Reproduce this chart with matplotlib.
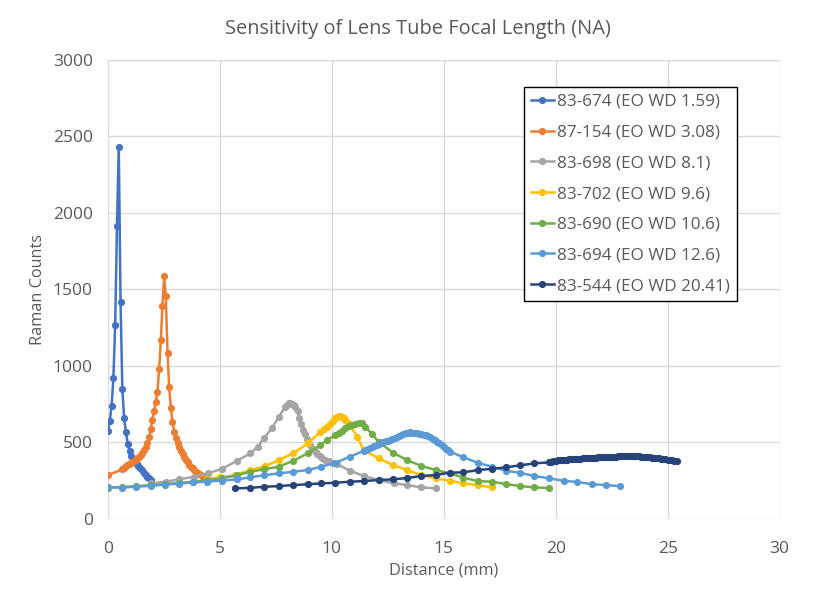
import matplotlib
matplotlib.use("Agg")
import matplotlib.pyplot as plt

plt.rcParams['font.family'] = ['Open Sans', 'DejaVu Sans']

title = "Sensitivity of Lens Tube Focal Length (NA)"
x_label = "Distance (mm)"
y_label = "Raman Counts"
labels = ["83-674 (EO WD 1.59)", "87-154 (EO WD 3.08)", "83-698 (EO WD 8.1)",
          "83-702 (EO WD 9.6)", "83-690 (EO WD 10.6)", "83-694 (EO WD 12.6)",
          "83-544 (EO WD 20.41)"]
colors = ["#4472C4", "#ED7D31", "#A5A5A5", "#FFC000", "#70AD47", "#5B9BD5", "#264478"]

x_674 = [0.00, 0.08, 0.16, 0.24, 0.32, 0.40, 0.48, 0.56, 0.64, 0.72, 0.80, 0.88, 0.96,
         1.04, 1.12, 1.20, 1.28, 1.36, 1.44, 1.52, 1.60, 1.68, 1.76, 1.84, 1.92]
y_674 = [570, 640, 735, 920, 1265, 1915, 2430, 1415, 845, 655, 565, 490, 440,
         412, 390, 372, 357, 343, 330, 316, 300, 285, 272, 262, 255]

x_154 = [0.00, 0.63, 0.71, 0.78, 0.86, 0.93, 1.01, 1.08, 1.16, 1.23, 1.31, 1.38, 1.46,
         1.53, 1.61, 1.68, 1.76, 1.83, 1.91, 1.98, 2.06, 2.13, 2.21, 2.28, 2.36, 2.43,
         2.51, 2.58, 2.66, 2.73, 2.81, 2.88, 2.96, 3.03, 3.11, 3.18, 3.26, 3.33, 3.41,
         3.48, 3.56, 3.63, 3.71, 3.78, 3.86, 3.93, 4.01, 4.08, 4.16, 4.23, 4.31, 4.38, 4.46]
y_154 = [284, 321, 330, 339, 348, 356, 363, 370, 377, 386, 395, 405, 416,
         430, 447, 467, 495, 530, 585, 645, 705, 760, 830, 975, 1165, 1390,
         1585, 1455, 1085, 860, 720, 630, 565, 525, 492, 466, 443, 422, 403,
         385, 368, 353, 340, 328, 317, 307, 298, 290, 282, 274, 267, 261, 256]

x_698 = [1.93, 2.57, 3.19, 3.83, 4.46, 5.10, 5.74, 6.36, 6.69, 6.96, 7.33, 7.63, 7.92,
         8.00, 8.07, 8.15, 8.22, 8.30, 8.37, 8.47, 8.55, 8.63, 8.71, 8.79, 8.87, 8.95,
         9.03, 9.11, 9.19, 9.27, 9.35, 9.45, 9.56, 9.70, 9.85, 10.00, 10.23, 10.80,
         11.42, 12.09, 12.76, 13.36, 13.98, 14.63]
y_698 = [230, 241, 256, 273, 295, 326, 376, 426, 469, 524, 593, 665, 731,
         745, 753, 757, 752, 742, 731, 700, 660, 615, 580, 550, 520, 496,
         478, 462, 448, 436, 425, 410, 395, 385, 375, 365, 355, 314,
         278, 252, 230, 219, 204, 197]

x_702 = [4.40, 5.02, 5.69, 6.36, 7.03, 7.63, 8.27, 8.92, 9.49, 9.65, 9.79, 9.93, 10.05,
         10.15, 10.23, 10.30, 10.38, 10.45, 10.52, 10.60, 10.70, 10.83, 11.13, 11.42,
         12.09, 12.73, 13.36, 13.98, 14.63, 15.27, 15.88, 16.51, 17.15]
y_702 = [258, 269, 284, 317, 343, 382, 426, 491, 567, 585, 600, 620, 640,
         655, 665, 670, 670, 667, 658, 644, 625, 605, 535, 448,
         393, 350, 317, 284, 263, 247, 230, 219, 204]

x_690 = [0.00, 0.63, 1.27, 1.90, 2.54, 3.17, 3.81, 4.44, 5.08, 5.77, 6.36, 6.96, 7.63,
         8.27, 8.92, 9.49, 9.80, 10.16, 10.30, 10.45, 10.60, 10.75, 10.90, 11.05, 11.20,
         11.35, 11.50, 11.80, 12.09, 12.73, 13.36, 13.98, 14.63, 15.29, 15.88, 16.51,
         17.15, 17.79, 18.42, 19.05, 19.70]
y_690 = [200, 207, 212, 218, 225, 232, 240, 250, 263, 284, 306, 322, 339,
         378, 426, 480, 515, 546, 560, 575, 590, 603, 612, 620, 625,
         622, 600, 550, 502, 430, 382, 345, 317, 295, 267, 245,
         241, 225, 212, 204, 199]

x_694 = [0.00, 0.63, 1.27, 1.90, 2.54, 3.17, 3.81, 4.44, 5.08, 5.74, 6.36, 6.99, 7.63,
         8.27, 8.92, 9.53, 10.16, 10.80, 11.42, 11.5, 11.6, 11.7, 11.8, 11.9, 12.0, 12.1,
         12.2, 12.3, 12.4, 12.5, 12.6, 12.7, 12.8, 12.9, 13.0, 13.1, 13.2, 13.3, 13.4,
         13.5, 13.6, 13.7, 13.8, 13.9, 14.0, 14.1, 14.2, 14.3, 14.4, 14.5, 14.6, 14.7,
         14.8, 14.9, 15.0, 15.1, 15.2, 15.29, 15.88, 16.51, 17.15, 17.79, 18.42, 19.05,
         19.70, 20.35, 20.95, 21.62, 22.24, 22.85]
y_694 = [205, 203, 208, 214, 222, 229, 236, 242, 248, 256, 269, 284, 295,
         306, 317, 339, 365, 404, 443, 448, 455, 461, 467, 474, 480, 486,
         492, 498, 504, 510, 516, 522, 528, 534, 540, 546, 552, 557, 561,
         563, 562, 560, 558, 555, 552, 548, 543, 537, 530, 522, 513, 503,
         492, 480, 468, 456, 446, 437, 400, 365, 339, 312, 299, 278,
         263, 247, 239, 225, 219, 212]

x_544 = [5.69, 6.36, 6.99, 7.63, 8.27, 8.92, 9.53, 10.16, 10.80, 11.42, 12.09, 12.73,
         13.36, 13.98, 14.63, 15.27, 15.88, 16.51, 17.15, 17.79, 18.42, 19.05, 19.70,
         19.8, 19.9, 20.0, 20.1, 20.2, 20.3, 20.4, 20.5, 20.6, 20.7, 20.8, 20.9, 21.0,
         21.1, 21.2, 21.3, 21.4, 21.5, 21.6, 21.7, 21.8, 21.9, 22.0, 22.1, 22.2, 22.3,
         22.4, 22.5, 22.6, 22.7, 22.8, 22.9, 23.0, 23.1, 23.2, 23.3, 23.4, 23.5, 23.6,
         23.7, 23.8, 23.9, 24.0, 24.1, 24.2, 24.3, 24.4, 24.5, 24.6, 24.7, 24.8, 24.9,
         25.0, 25.1, 25.2, 25.3, 25.4]
y_544 = [197, 201, 208, 212, 219, 224, 230, 234, 241, 245, 252, 256,
         265, 278, 284, 300, 302, 317, 325, 335, 348, 361, 367,
         372, 375, 378, 380, 381, 383, 385, 386, 387, 388, 389, 390, 391,
         392, 393, 394, 395, 396, 397, 398, 399, 400, 401, 402, 402, 403,
         404, 404, 405, 405, 406, 406, 407, 407, 407, 408, 407, 407, 406,
         406, 405, 404, 403, 402, 400, 399, 397, 395, 393, 391, 389, 387,
         385, 383, 381, 379, 377]

series_x = [x_674, x_154, x_698, x_702, x_690, x_694, x_544]
series_y = [y_674, y_154, y_698, y_702, y_690, y_694, y_544]

x_ticks = [0, 5, 10, 15, 20, 25, 30]
y_ticks = [0, 500, 1000, 1500, 2000, 2500, 3000]

text_color = "#595959"
grid_color = "#D9D9D9"

fig = plt.figure(figsize=(8.14, 5.94), dpi=100)
ax = fig.add_axes([0.1327, 0.127, 0.825, 0.7727])

for xs, ys, c, lab in zip(series_x, series_y, colors, labels):
    ax.plot(xs, ys, color=c, linewidth=1.8, marker='o', markersize=5.2,
            markeredgewidth=0, label=lab)

ax.set_xlim(0, 30)
ax.set_ylim(0, 3000)
ax.set_xticks(x_ticks)
ax.set_yticks(y_ticks)
ax.grid(True, color=grid_color, linewidth=1.0)
ax.set_axisbelow(True)
for s in ax.spines.values():
    s.set_visible(False)
ax.tick_params(axis='x', length=0, labelsize=12.5, labelcolor=text_color, pad=16)
ax.tick_params(axis='y', length=0, labelsize=12.5, labelcolor=text_color, pad=11)

ax.set_xlabel(x_label, fontsize=11.7, color=text_color, labelpad=4)
ax.set_ylabel(y_label, fontsize=11.7, color=text_color, labelpad=5)
fig.suptitle(title, fontsize=14.4, color=text_color, x=0.514, y=0.968)

leg = ax.legend(loc='upper left', bbox_to_anchor=(0.619, 0.940), fontsize=12.3,
                frameon=True, fancybox=False, edgecolor='black', framealpha=1,
                handlelength=1.4, handletextpad=0.15, labelspacing=0.86,
                borderpad=0.4, borderaxespad=0)
leg.get_frame().set_linewidth(1.0)
for t in leg.get_texts():
    t.set_color(text_color)

fig.savefig("out.png", dpi=100)
